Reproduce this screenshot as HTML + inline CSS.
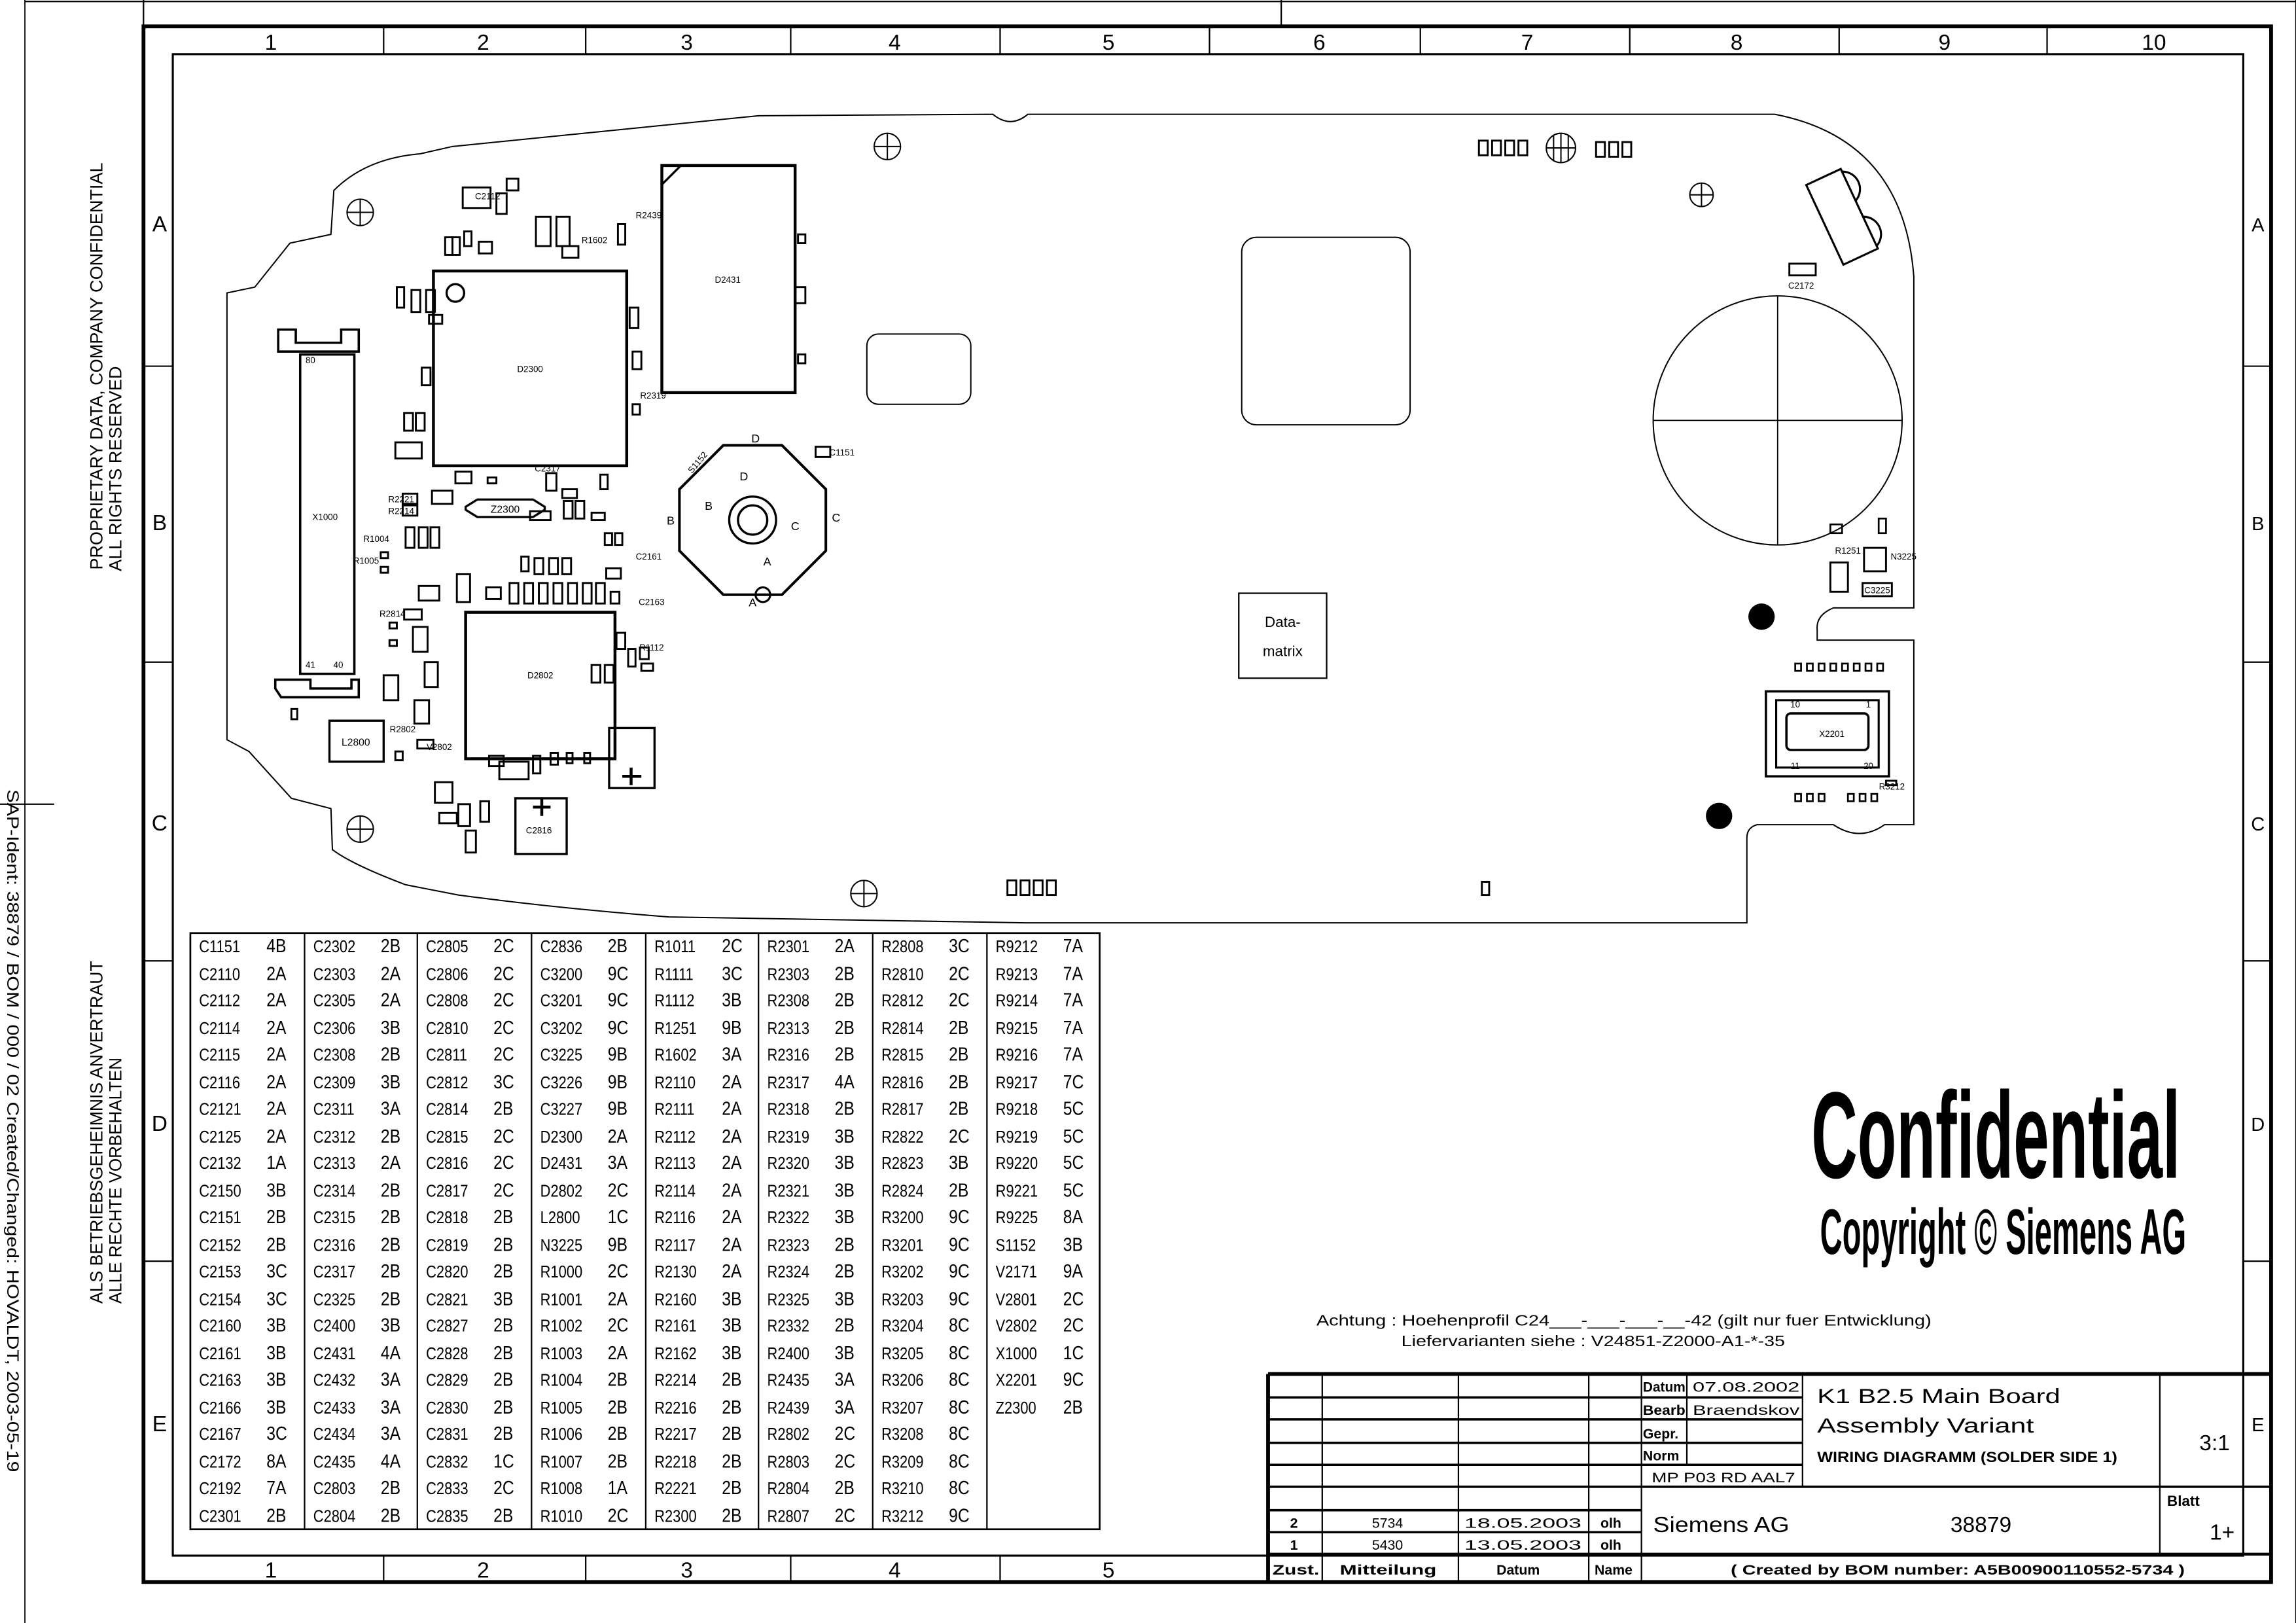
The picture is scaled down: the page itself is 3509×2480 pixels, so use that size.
<!DOCTYPE html>
<html><head><meta charset="utf-8">
<style>
html,body{margin:0;padding:0;background:#fff;}
#wrap{position:relative;width:1568px;height:1108px;transform:scale(2.23788,2.23827);transform-origin:0 0;overflow:hidden;}
svg{position:absolute;left:0;top:0;}
text{font-family:"Liberation Sans",sans-serif;fill:#000;}
.tc{position:absolute;top:637px;font-family:"Liberation Sans",sans-serif;font-size:11.5px;line-height:18.5px;width:77px;}
.tc div{height:18.5px;white-space:nowrap;}
.tc b{font-weight:normal;display:inline-block;width:45px;padding-left:7px;transform:scaleX(0.85);transform-origin:left;}
.tc i{font-style:normal;font-size:13px;display:inline-block;transform:scaleX(0.85);transform-origin:left;}
</style></head><body>
<div id="wrap">
<svg width="1568" height="1108" viewBox="0 0 1568 1108">
<g fill="none" stroke="#000">
<!-- outer paper lines -->
<line x1="17" y1="1" x2="1568" y2="1" stroke-width="1"/>
<line x1="17" y1="0" x2="17" y2="1108" stroke-width="0.8"/>
<line x1="0" y1="549" x2="37" y2="549" stroke-width="1"/>
<line x1="98" y1="0" x2="98" y2="18" stroke-width="1"/>
<line x1="875" y1="0" x2="875" y2="18" stroke-width="1"/>
<line x1="1568" y1="0" x2="1568" y2="1108" stroke-width="1"/>
<!-- frame -->
<rect x="98" y="18" width="1453" height="1062" stroke-width="2.6"/>
<rect x="118" y="37" width="1414" height="1025" stroke-width="1.4"/>
<g stroke-width="1">
<line x1="262" y1="18" x2="262" y2="37"/><line x1="400" y1="18" x2="400" y2="37"/><line x1="540" y1="18" x2="540" y2="37"/><line x1="683" y1="18" x2="683" y2="37"/><line x1="826" y1="18" x2="826" y2="37"/><line x1="970" y1="18" x2="970" y2="37"/><line x1="1113" y1="18" x2="1113" y2="37"/><line x1="1256" y1="18" x2="1256" y2="37"/><line x1="1398" y1="18" x2="1398" y2="37"/>
<line x1="262" y1="1062" x2="262" y2="1080"/><line x1="400" y1="1062" x2="400" y2="1080"/><line x1="540" y1="1062" x2="540" y2="1080"/><line x1="683" y1="1062" x2="683" y2="1080"/>
<line x1="98" y1="250" x2="118" y2="250"/><line x1="98" y1="452" x2="118" y2="452"/><line x1="98" y1="656" x2="118" y2="656"/><line x1="98" y1="861" x2="118" y2="861"/>
<line x1="1532" y1="250" x2="1551" y2="250"/><line x1="1532" y1="452" x2="1551" y2="452"/><line x1="1532" y1="656" x2="1551" y2="656"/><line x1="1532" y1="861" x2="1551" y2="861"/>
</g>
<!-- board outline -->
<path d="M155,200 L174,196 L198,166 L226,160 L228,130 Q250,108 287,105 L309,100 L518,79 L678,78 Q690,88 702,78 L1212,78 Q1300,95 1307,189 L1307,415 L1252,415 Q1240,420 1241,430 L1241,437 L1307,437 L1307,563 L1287,563 Q1270,575 1252,563 L1200,563 Q1193,565 1193,572 L1193,630 L1030,630 L700,630 L457,626 Q380,620 313,611 L277,604 Q240,590 227,580 L226,552 L199,545 L170,513 L155,505 Z" stroke-width="0.9"/>
<!-- registration marks -->
<g stroke-width="0.9">
<circle cx="246" cy="145" r="9"/><line x1="237" y1="145" x2="255" y2="145"/><line x1="246" y1="136" x2="246" y2="154"/>
<circle cx="606" cy="100" r="9"/><line x1="597" y1="100" x2="615" y2="100"/><line x1="606" y1="91" x2="606" y2="109"/>
<circle cx="1162" cy="133" r="8"/><line x1="1154" y1="133" x2="1170" y2="133"/><line x1="1162" y1="125" x2="1162" y2="141"/>
<circle cx="590" cy="610" r="9"/><line x1="581" y1="610" x2="599" y2="610"/><line x1="590" y1="601" x2="590" y2="619"/>
<circle cx="246" cy="566" r="9"/><line x1="237" y1="566" x2="255" y2="566"/><line x1="246" y1="557" x2="246" y2="575"/>
<circle cx="1066" cy="101" r="10"/><line x1="1056" y1="101" x2="1076" y2="101"/><line x1="1066" y1="91" x2="1066" y2="111"/><line x1="1061" y1="92" x2="1061" y2="110"/><line x1="1071" y1="92" x2="1071" y2="110"/>
</g>
<!-- big rounded windows -->
<rect x="848" y="162" width="115" height="128" rx="10" stroke-width="0.9"/>
<rect x="592" y="228" width="71" height="48" rx="8" stroke-width="0.9"/>
<!-- big circle -->
<circle cx="1214" cy="287" r="85" stroke-width="0.9"/>
<line x1="1129" y1="287" x2="1299" y2="287" stroke-width="0.8"/><line x1="1214" y1="202" x2="1214" y2="372" stroke-width="0.8"/>
<!-- datamatrix -->
<rect x="846" y="405" width="60" height="58" stroke-width="1"/>
<!-- D2300 -->
<rect x="296" y="185" width="132" height="133" stroke-width="2"/>
<circle cx="311" cy="200" r="6" stroke-width="1.5"/>
<!-- D2431 -->
<rect x="452" y="113" width="91" height="155" stroke-width="2"/>
<line x1="452" y1="126" x2="465" y2="113" stroke-width="1.5"/>
<!-- X1000 connector -->
<rect x="205" y="242" width="37" height="218" stroke-width="1.6"/>
<path d="M190,225 L190,240 L245,240 L245,225 L233,225 L233,234 L202,234 L202,225 Z" stroke-width="1.6"/>
<path d="M188,470 L192,476 L245,476 L245,464 L240,464 L240,470 L212,470 L212,464 L188,464 Z" stroke-width="1.6"/>
<!-- D2802 -->
<rect x="318" y="418" width="102" height="100" stroke-width="2"/>
<!-- L2800 -->
<rect x="225" y="492" width="37" height="28" stroke-width="1.5"/>
<!-- C2812, C2816 -->
<rect x="416" y="497" width="31" height="41" stroke-width="1.5"/>
<line x1="425" y1="530" x2="438" y2="530" stroke-width="2"/><line x1="431" y1="524" x2="431" y2="536" stroke-width="2"/>
<rect x="352" y="545" width="35" height="38" stroke-width="1.5"/>
<line x1="364" y1="551" x2="376" y2="551" stroke-width="2"/><line x1="370" y1="545" x2="370" y2="557" stroke-width="2"/>
<!-- Z2300 -->
<path d="M326,341 L364,341 L372,346 L372,348 L364,353 L326,353 L318,348 L318,346 Z" stroke-width="1.5"/>
<!-- joystick -->
<path d="M494,304 L534,304 L564,334 L564,376 L534,406 L494,406 L464,376 L464,334 Z" stroke-width="1.8"/>
<circle cx="514" cy="355" r="16" stroke-width="1.5"/><circle cx="514" cy="355" r="10" stroke-width="1.5"/>
<circle cx="521" cy="406" r="5" stroke-width="1.4"/>
<!-- V2171 -->
<g transform="translate(1258,148) rotate(-25)" stroke-width="1.4">
<rect x="-13" y="-30" width="26" height="60"/>
<path d="M13,-28 A12,12 0 0 1 13,-6"/><path d="M13,6 A12,12 0 0 1 13,28"/>
</g>
<rect x="1222" y="180" width="18" height="8" stroke-width="1.3"/>
<!-- X2201 -->
<rect x="1206" y="472" width="84" height="58" stroke-width="1.6"/>
<rect x="1213" y="478" width="70" height="46" stroke-width="1.4"/>
<rect x="1220" y="487" width="56" height="25" rx="3" stroke-width="1.6"/>
<!-- N3225 area -->
<rect x="1250" y="358" width="8" height="6" stroke-width="1.2"/>
<rect x="1273" y="374" width="15" height="16" stroke-width="1.3"/>
<rect x="1283" y="354" width="5" height="10" stroke-width="1.2"/>
<rect x="1250" y="384" width="12" height="20" stroke-width="1.3"/>
<rect x="1272" y="398" width="20" height="9" stroke-width="1.3"/>
<!-- small components -->
<g stroke-width="1.3">
<rect x="316" y="128" width="19" height="14"/><rect x="339" y="132" width="7" height="14"/><rect x="346" y="122" width="8" height="8"/>
<rect x="366" y="148" width="10" height="20"/><rect x="380" y="148" width="9" height="20"/><rect x="384" y="168" width="11" height="8"/>
<rect x="317" y="158" width="5" height="10"/><rect x="304" y="162" width="5" height="12"/><rect x="309" y="162" width="5" height="12"/>
<rect x="327" y="165" width="9" height="8"/><rect x="422" y="153" width="5" height="14"/>
<rect x="271" y="196" width="5" height="14"/><rect x="281" y="198" width="6" height="15"/><rect x="291" y="198" width="6" height="15"/>
<rect x="293" y="215" width="9" height="6"/><rect x="270" y="302" width="18" height="11"/><rect x="276" y="282" width="6" height="12"/>
<rect x="284" y="282" width="6" height="12"/><rect x="288" y="251" width="6" height="12"/><rect x="430" y="210" width="6" height="14"/>
<rect x="432" y="240" width="6" height="12"/><rect x="432" y="276" width="5" height="7"/><rect x="545" y="160" width="5" height="6"/>
<rect x="543" y="196" width="7" height="11"/><rect x="545" y="242" width="5" height="6"/><rect x="557" y="305" width="10" height="7"/>
<rect x="311" y="322" width="11" height="8"/><rect x="333" y="326" width="6" height="4"/><rect x="295" y="335" width="14" height="9"/>
<rect x="275" y="337" width="10" height="7"/><rect x="275" y="345" width="10" height="7"/><rect x="373" y="323" width="7" height="12"/>
<rect x="384" y="334" width="10" height="6"/><rect x="385" y="342" width="6" height="12"/><rect x="393" y="342" width="6" height="12"/>
<rect x="410" y="324" width="5" height="10"/><rect x="404" y="350" width="9" height="5"/><rect x="362" y="349" width="14" height="6"/>
<rect x="277" y="360" width="6" height="14"/><rect x="286" y="360" width="6" height="14"/><rect x="294" y="360" width="6" height="14"/>
<rect x="260" y="377" width="5" height="4"/><rect x="260" y="387" width="5" height="4"/><rect x="286" y="400" width="14" height="10"/>
<rect x="312" y="392" width="9" height="19"/><rect x="356" y="380" width="5" height="10"/><rect x="365" y="381" width="6" height="11"/>
<rect x="375" y="381" width="6" height="11"/><rect x="384" y="381" width="6" height="11"/><rect x="332" y="401" width="10" height="8"/>
<rect x="348" y="398" width="6" height="14"/><rect x="358" y="398" width="6" height="14"/><rect x="368" y="398" width="6" height="14"/>
<rect x="378" y="398" width="6" height="14"/><rect x="388" y="398" width="6" height="14"/><rect x="398" y="398" width="6" height="14"/>
<rect x="407" y="398" width="6" height="14"/><rect x="414" y="388" width="10" height="7"/><rect x="413" y="364" width="5" height="8"/>
<rect x="420" y="364" width="5" height="8"/><rect x="417" y="404" width="6" height="8"/><rect x="421" y="432" width="6" height="11"/>
<rect x="266" y="425" width="5" height="4"/><rect x="266" y="437" width="5" height="4"/><rect x="276" y="416" width="12" height="7"/>
<rect x="282" y="428" width="10" height="17"/><rect x="290" y="452" width="9" height="17"/><rect x="262" y="461" width="10" height="17"/>
<rect x="283" y="478" width="10" height="16"/><rect x="285" y="505" width="11" height="6"/><rect x="270" y="513" width="5" height="6"/>
<rect x="199" y="484" width="4" height="7"/><rect x="429" y="443" width="5" height="12"/><rect x="437" y="442" width="6" height="8"/>
<rect x="438" y="453" width="8" height="5"/><rect x="404" y="454" width="6" height="12"/><rect x="413" y="454" width="6" height="12"/>
<rect x="334" y="516" width="10" height="7"/><rect x="341" y="520" width="20" height="12"/><rect x="364" y="516" width="5" height="12"/>
<rect x="376" y="514" width="5" height="8"/><rect x="387" y="514" width="4" height="7"/><rect x="399" y="514" width="4" height="7"/>
<rect x="297" y="534" width="12" height="14"/><rect x="300" y="555" width="12" height="7"/><rect x="313" y="549" width="8" height="15"/>
<rect x="328" y="547" width="6" height="14"/><rect x="318" y="567" width="7" height="15"/><rect x="1010" y="96" width="6" height="10"/>
<rect x="1019" y="96" width="6" height="10"/><rect x="1028" y="96" width="6" height="10"/><rect x="1037" y="96" width="6" height="10"/>
<rect x="1090" y="97" width="6" height="10"/><rect x="1099" y="97" width="6" height="10"/><rect x="1108" y="97" width="6" height="10"/>
<rect x="688" y="601" width="6" height="10"/><rect x="697" y="601" width="6" height="10"/><rect x="706" y="601" width="6" height="10"/>
<rect x="715" y="601" width="6" height="10"/><rect x="1012" y="602" width="5" height="9"/><rect x="1288" y="533" width="7" height="3"/>
</g>
<g stroke-width="1.2">
<rect x="1226" y="453" width="4" height="5"/><rect x="1234" y="453" width="4" height="5"/><rect x="1242" y="453" width="4" height="5"/><rect x="1250" y="453" width="4" height="5"/><rect x="1258" y="453" width="4" height="5"/><rect x="1266" y="453" width="4" height="5"/><rect x="1274" y="453" width="4" height="5"/><rect x="1282" y="453" width="4" height="5"/>
<rect x="1226" y="542" width="4" height="5"/><rect x="1234" y="542" width="4" height="5"/><rect x="1242" y="542" width="4" height="5"/><rect x="1262" y="542" width="4" height="5"/><rect x="1270" y="542" width="4" height="5"/><rect x="1278" y="542" width="4" height="5"/>
</g>
<!-- table -->
<rect x="130" y="637" width="621" height="407" stroke-width="1.2"/>
<g stroke-width="1"><line x1="208" y1="637" x2="208" y2="1044"/><line x1="285" y1="637" x2="285" y2="1044"/><line x1="363" y1="637" x2="363" y2="1044"/><line x1="441" y1="637" x2="441" y2="1044"/><line x1="518" y1="637" x2="518" y2="1044"/><line x1="596" y1="637" x2="596" y2="1044"/><line x1="674" y1="637" x2="674" y2="1044"/></g>
<!-- title block -->
<g stroke-width="1">
<line x1="866" y1="938" x2="1551" y2="938" stroke-width="2.6"/>
<line x1="866" y1="938" x2="866" y2="1080" stroke-width="2.6"/>
<line x1="866" y1="1061" x2="1551" y2="1061" stroke-width="2"/>
<line x1="903" y1="938" x2="903" y2="1080"/><line x1="996" y1="938" x2="996" y2="1080"/><line x1="1085" y1="938" x2="1085" y2="1080"/><line x1="1121" y1="938" x2="1121" y2="1080"/>
<line x1="1152" y1="938" x2="1152" y2="1000"/><line x1="1231" y1="938" x2="1231" y2="1015"/><line x1="1475" y1="938" x2="1475" y2="1061"/>
<line x1="866" y1="954" x2="1121" y2="954" stroke-width="1.6"/><line x1="866" y1="969" x2="1121" y2="969" stroke-width="1.6"/><line x1="866" y1="985" x2="1121" y2="985" stroke-width="1.6"/><line x1="866" y1="1000" x2="1231" y2="1000" stroke-width="1.6"/>
<line x1="1121" y1="954" x2="1231" y2="954" stroke-width="1.6"/><line x1="1121" y1="969" x2="1231" y2="969" stroke-width="1.6"/><line x1="1121" y1="985" x2="1231" y2="985" stroke-width="1.6"/>
<line x1="866" y1="1015" x2="1551" y2="1015" stroke-width="1.6"/>
<line x1="866" y1="1031" x2="1121" y2="1031" stroke-width="1.6"/><line x1="866" y1="1046" x2="1121" y2="1046" stroke-width="1.6"/>
</g>
</g>
<g fill="#000" stroke="none">
<circle cx="1203" cy="421" r="9"/><circle cx="1174" cy="557" r="9"/>
</g>
<!-- frame labels -->
<g font-size="15" text-anchor="middle">
<text x="185" y="34">1</text><text x="330" y="34">2</text><text x="469" y="34">3</text><text x="611" y="34">4</text><text x="757" y="34">5</text><text x="901" y="34">6</text><text x="1043" y="34">7</text><text x="1186" y="34">8</text><text x="1328" y="34">9</text><text x="1471" y="34">10</text>
<text x="185" y="1077">1</text><text x="330" y="1077">2</text><text x="469" y="1077">3</text><text x="611" y="1077">4</text><text x="757" y="1077">5</text>
<text x="109" y="158">A</text><text x="109" y="362">B</text><text x="109" y="567">C</text><text x="109" y="772">D</text><text x="109" y="977">E</text>
<text x="1542" y="158" font-size="13">A</text><text x="1542" y="362" font-size="13">B</text><text x="1542" y="567" font-size="13">C</text><text x="1542" y="772" font-size="13">D</text><text x="1542" y="977" font-size="13">E</text>
</g>
<!-- side texts -->
<g font-family="Liberation Mono" font-size="12" text-anchor="middle">
<text transform="translate(70,250) rotate(-90)" textLength="278" lengthAdjust="spacingAndGlyphs">PROPRIETARY DATA, COMPANY CONFIDENTIAL</text>
<text transform="translate(83,320) rotate(-90)" textLength="140" lengthAdjust="spacingAndGlyphs">ALL RIGHTS RESERVED</text>
<text transform="translate(70,773) rotate(-90)" textLength="234" lengthAdjust="spacingAndGlyphs">ALS BETRIEBSGEHEIMNIS ANVERTRAUT</text>
<text transform="translate(83,806) rotate(-90)" textLength="168" lengthAdjust="spacingAndGlyphs">ALLE RECHTE VORBEHALTEN</text>
</g>
<text transform="translate(5,772) rotate(90)" font-size="11" text-anchor="middle" textLength="466" lengthAdjust="spacingAndGlyphs">SAP-Ident: 38879 / BOM / 000 / 02   Created/Changed: HOVALDT, 2003-05-19</text>
<!-- Confidential -->
<text x="1237" y="804" font-size="84" font-weight="bold" textLength="252" lengthAdjust="spacingAndGlyphs">Confidential</text>
<text x="1243" y="856" font-size="44" font-weight="bold" textLength="250" lengthAdjust="spacingAndGlyphs">Copyright © Siemens AG</text>
<g font-family="Liberation Mono" font-size="10.5">
<text x="899" y="905" textLength="420" lengthAdjust="spacingAndGlyphs">Achtung : Hoehenprofil C24___-___-___-__-42 (gilt nur fuer Entwicklung)</text>
<text x="957" y="919" textLength="262" lengthAdjust="spacingAndGlyphs">Liefervarianten siehe : V24851-Z2000-A1-*-35</text>
</g>
<!-- title texts -->
<g font-family="Liberation Mono">
<text x="1241" y="958" font-size="14" textLength="166" lengthAdjust="spacingAndGlyphs">K1 B2.5 Main Board</text>
<text x="1241" y="978" font-size="14" textLength="148" lengthAdjust="spacingAndGlyphs">Assembly Variant</text>
<text x="1241" y="998" font-size="10" font-weight="bold" textLength="205" lengthAdjust="spacingAndGlyphs">WIRING DIAGRAMM (SOLDER SIDE 1)</text>
<text x="1502" y="990" font-size="15">3:1</text>
<text x="1480" y="1028" font-size="10" font-weight="bold">Blatt</text>
<text x="1509" y="1051" font-size="15">1+</text>
<text x="1129" y="1046" font-size="15" textLength="93" lengthAdjust="spacingAndGlyphs">Siemens AG</text>
<text x="1332" y="1046" font-size="15">38879</text>
<g font-size="9.5" font-weight="bold">
<text x="1122" y="950" textLength="29" lengthAdjust="spacingAndGlyphs">Datum</text><text x="1156" y="950" font-weight="normal" textLength="73" lengthAdjust="spacingAndGlyphs">07.08.2002</text>
<text x="1122" y="966" textLength="29" lengthAdjust="spacingAndGlyphs">Bearb</text><text x="1156" y="966" textLength="73" lengthAdjust="spacingAndGlyphs" font-weight="normal">Braendskov</text>
<text x="1122" y="982">Gepr.</text><text x="1122" y="997">Norm</text>
<text x="1128" y="1012" font-weight="normal" textLength="98" lengthAdjust="spacingAndGlyphs">MP P03 RD AAL7</text>
<text x="881" y="1043">2</text><text x="937" y="1043" font-weight="normal">5734</text><text x="1000" y="1043" font-weight="normal" textLength="80" lengthAdjust="spacingAndGlyphs">18.05.2003</text><text x="1093" y="1043">olh</text>
<text x="881" y="1058">1</text><text x="937" y="1058" font-weight="normal">5430</text><text x="1000" y="1058" font-weight="normal" textLength="80" lengthAdjust="spacingAndGlyphs">13.05.2003</text><text x="1093" y="1058">olh</text>
<text x="869" y="1075" textLength="32" lengthAdjust="spacingAndGlyphs">Zust.</text><text x="915" y="1075" textLength="66" lengthAdjust="spacingAndGlyphs">Mitteilung</text><text x="1022" y="1075">Datum</text><text x="1089" y="1075">Name</text>
<text x="1182" y="1075" textLength="310" lengthAdjust="spacingAndGlyphs">( Created by BOM number: A5B00900110552-5734 )</text>
</g>
</g>
<!-- board labels -->
<g font-size="6" text-anchor="middle">
<text x="876" y="428" font-size="10" font-family="Liberation Mono">Data-</text>
<text x="876" y="448" font-size="10" font-family="Liberation Mono">matrix</text>
<text x="362" y="254">D2300</text><text x="497" y="193">D2431</text><text x="369" y="463">D2802</text>
<text x="243" y="509" font-size="7">L2800</text><text x="345" y="350" font-size="7">Z2300</text><text x="1251" y="503">X2201</text>
<text x="1226" y="483">10</text><text x="1276" y="483">1</text><text x="1226" y="525">11</text><text x="1276" y="525">20</text>
<text x="368" y="569">C2816</text><text x="333" y="136">C2112</text><text x="1230" y="197">C2172</text>
<text x="1262" y="378">R1251</text><text x="1300" y="382">N3225</text><text x="1282" y="405">C3225</text>
<text x="575" y="311">C1151</text><text x="478" y="317" transform="rotate(-50 478 317)">S1152</text>
<text x="516" y="302" font-size="8">D</text><text x="458" y="358" font-size="8">B</text><text x="571" y="356" font-size="8">C</text><text x="514" y="414" font-size="8">A</text>
<text x="508" y="328" font-size="8">D</text><text x="484" y="348" font-size="8">B</text><text x="543" y="362" font-size="8">C</text><text x="524" y="386" font-size="8">A</text>
<text x="212" y="248">80</text><text x="212" y="456">41</text><text x="231" y="456">40</text><text x="222" y="355">X1000</text>
<text x="274" y="343">R2221</text><text x="274" y="351">R2214</text><text x="257" y="370">R1004</text><text x="250" y="385">R1005</text>
<text x="268" y="421">R2814</text><text x="275" y="500">R2802</text><text x="300" y="512">V2802</text><text x="374" y="322">C2317</text>
<text x="446" y="272">R2319</text><text x="406" y="166">R1602</text><text x="443" y="149">R2439</text><text x="443" y="382">C2161</text>
<text x="445" y="413">C2163</text><text x="445" y="444">R1112</text><text x="1292" y="539">R3212</text>
</g>
</svg>
<div class="tc" style="left:130px"><div><b>C1151</b><i>4B</i></div><div><b>C2110</b><i>2A</i></div><div><b>C2112</b><i>2A</i></div><div><b>C2114</b><i>2A</i></div><div><b>C2115</b><i>2A</i></div><div><b>C2116</b><i>2A</i></div><div><b>C2121</b><i>2A</i></div><div><b>C2125</b><i>2A</i></div><div><b>C2132</b><i>1A</i></div><div><b>C2150</b><i>3B</i></div><div><b>C2151</b><i>2B</i></div><div><b>C2152</b><i>2B</i></div><div><b>C2153</b><i>3C</i></div><div><b>C2154</b><i>3C</i></div><div><b>C2160</b><i>3B</i></div><div><b>C2161</b><i>3B</i></div><div><b>C2163</b><i>3B</i></div><div><b>C2166</b><i>3B</i></div><div><b>C2167</b><i>3C</i></div><div><b>C2172</b><i>8A</i></div><div><b>C2192</b><i>7A</i></div><div><b>C2301</b><i>2B</i></div></div>
<div class="tc" style="left:208px"><div><b>C2302</b><i>2B</i></div><div><b>C2303</b><i>2A</i></div><div><b>C2305</b><i>2A</i></div><div><b>C2306</b><i>3B</i></div><div><b>C2308</b><i>2B</i></div><div><b>C2309</b><i>3B</i></div><div><b>C2311</b><i>3A</i></div><div><b>C2312</b><i>2B</i></div><div><b>C2313</b><i>2A</i></div><div><b>C2314</b><i>2B</i></div><div><b>C2315</b><i>2B</i></div><div><b>C2316</b><i>2B</i></div><div><b>C2317</b><i>2B</i></div><div><b>C2325</b><i>2B</i></div><div><b>C2400</b><i>3B</i></div><div><b>C2431</b><i>4A</i></div><div><b>C2432</b><i>3A</i></div><div><b>C2433</b><i>3A</i></div><div><b>C2434</b><i>3A</i></div><div><b>C2435</b><i>4A</i></div><div><b>C2803</b><i>2B</i></div><div><b>C2804</b><i>2B</i></div></div>
<div class="tc" style="left:285px"><div><b>C2805</b><i>2C</i></div><div><b>C2806</b><i>2C</i></div><div><b>C2808</b><i>2C</i></div><div><b>C2810</b><i>2C</i></div><div><b>C2811</b><i>2C</i></div><div><b>C2812</b><i>3C</i></div><div><b>C2814</b><i>2B</i></div><div><b>C2815</b><i>2C</i></div><div><b>C2816</b><i>2C</i></div><div><b>C2817</b><i>2C</i></div><div><b>C2818</b><i>2B</i></div><div><b>C2819</b><i>2B</i></div><div><b>C2820</b><i>2B</i></div><div><b>C2821</b><i>3B</i></div><div><b>C2827</b><i>2B</i></div><div><b>C2828</b><i>2B</i></div><div><b>C2829</b><i>2B</i></div><div><b>C2830</b><i>2B</i></div><div><b>C2831</b><i>2B</i></div><div><b>C2832</b><i>1C</i></div><div><b>C2833</b><i>2C</i></div><div><b>C2835</b><i>2B</i></div></div>
<div class="tc" style="left:363px"><div><b>C2836</b><i>2B</i></div><div><b>C3200</b><i>9C</i></div><div><b>C3201</b><i>9C</i></div><div><b>C3202</b><i>9C</i></div><div><b>C3225</b><i>9B</i></div><div><b>C3226</b><i>9B</i></div><div><b>C3227</b><i>9B</i></div><div><b>D2300</b><i>2A</i></div><div><b>D2431</b><i>3A</i></div><div><b>D2802</b><i>2C</i></div><div><b>L2800</b><i>1C</i></div><div><b>N3225</b><i>9B</i></div><div><b>R1000</b><i>2C</i></div><div><b>R1001</b><i>2A</i></div><div><b>R1002</b><i>2C</i></div><div><b>R1003</b><i>2A</i></div><div><b>R1004</b><i>2B</i></div><div><b>R1005</b><i>2B</i></div><div><b>R1006</b><i>2B</i></div><div><b>R1007</b><i>2B</i></div><div><b>R1008</b><i>1A</i></div><div><b>R1010</b><i>2C</i></div></div>
<div class="tc" style="left:441px"><div><b>R1011</b><i>2C</i></div><div><b>R1111</b><i>3C</i></div><div><b>R1112</b><i>3B</i></div><div><b>R1251</b><i>9B</i></div><div><b>R1602</b><i>3A</i></div><div><b>R2110</b><i>2A</i></div><div><b>R2111</b><i>2A</i></div><div><b>R2112</b><i>2A</i></div><div><b>R2113</b><i>2A</i></div><div><b>R2114</b><i>2A</i></div><div><b>R2116</b><i>2A</i></div><div><b>R2117</b><i>2A</i></div><div><b>R2130</b><i>2A</i></div><div><b>R2160</b><i>3B</i></div><div><b>R2161</b><i>3B</i></div><div><b>R2162</b><i>3B</i></div><div><b>R2214</b><i>2B</i></div><div><b>R2216</b><i>2B</i></div><div><b>R2217</b><i>2B</i></div><div><b>R2218</b><i>2B</i></div><div><b>R2221</b><i>2B</i></div><div><b>R2300</b><i>2B</i></div></div>
<div class="tc" style="left:518px"><div><b>R2301</b><i>2A</i></div><div><b>R2303</b><i>2B</i></div><div><b>R2308</b><i>2B</i></div><div><b>R2313</b><i>2B</i></div><div><b>R2316</b><i>2B</i></div><div><b>R2317</b><i>4A</i></div><div><b>R2318</b><i>2B</i></div><div><b>R2319</b><i>3B</i></div><div><b>R2320</b><i>3B</i></div><div><b>R2321</b><i>3B</i></div><div><b>R2322</b><i>3B</i></div><div><b>R2323</b><i>2B</i></div><div><b>R2324</b><i>2B</i></div><div><b>R2325</b><i>3B</i></div><div><b>R2332</b><i>2B</i></div><div><b>R2400</b><i>3B</i></div><div><b>R2435</b><i>3A</i></div><div><b>R2439</b><i>3A</i></div><div><b>R2802</b><i>2C</i></div><div><b>R2803</b><i>2C</i></div><div><b>R2804</b><i>2B</i></div><div><b>R2807</b><i>2C</i></div></div>
<div class="tc" style="left:596px"><div><b>R2808</b><i>3C</i></div><div><b>R2810</b><i>2C</i></div><div><b>R2812</b><i>2C</i></div><div><b>R2814</b><i>2B</i></div><div><b>R2815</b><i>2B</i></div><div><b>R2816</b><i>2B</i></div><div><b>R2817</b><i>2B</i></div><div><b>R2822</b><i>2C</i></div><div><b>R2823</b><i>3B</i></div><div><b>R2824</b><i>2B</i></div><div><b>R3200</b><i>9C</i></div><div><b>R3201</b><i>9C</i></div><div><b>R3202</b><i>9C</i></div><div><b>R3203</b><i>9C</i></div><div><b>R3204</b><i>8C</i></div><div><b>R3205</b><i>8C</i></div><div><b>R3206</b><i>8C</i></div><div><b>R3207</b><i>8C</i></div><div><b>R3208</b><i>8C</i></div><div><b>R3209</b><i>8C</i></div><div><b>R3210</b><i>8C</i></div><div><b>R3212</b><i>9C</i></div></div>
<div class="tc" style="left:674px"><div><b>R9212</b><i>7A</i></div><div><b>R9213</b><i>7A</i></div><div><b>R9214</b><i>7A</i></div><div><b>R9215</b><i>7A</i></div><div><b>R9216</b><i>7A</i></div><div><b>R9217</b><i>7C</i></div><div><b>R9218</b><i>5C</i></div><div><b>R9219</b><i>5C</i></div><div><b>R9220</b><i>5C</i></div><div><b>R9221</b><i>5C</i></div><div><b>R9225</b><i>8A</i></div><div><b>S1152</b><i>3B</i></div><div><b>V2171</b><i>9A</i></div><div><b>V2801</b><i>2C</i></div><div><b>V2802</b><i>2C</i></div><div><b>X1000</b><i>1C</i></div><div><b>X2201</b><i>9C</i></div><div><b>Z2300</b><i>2B</i></div></div>
</div>
</body></html>
